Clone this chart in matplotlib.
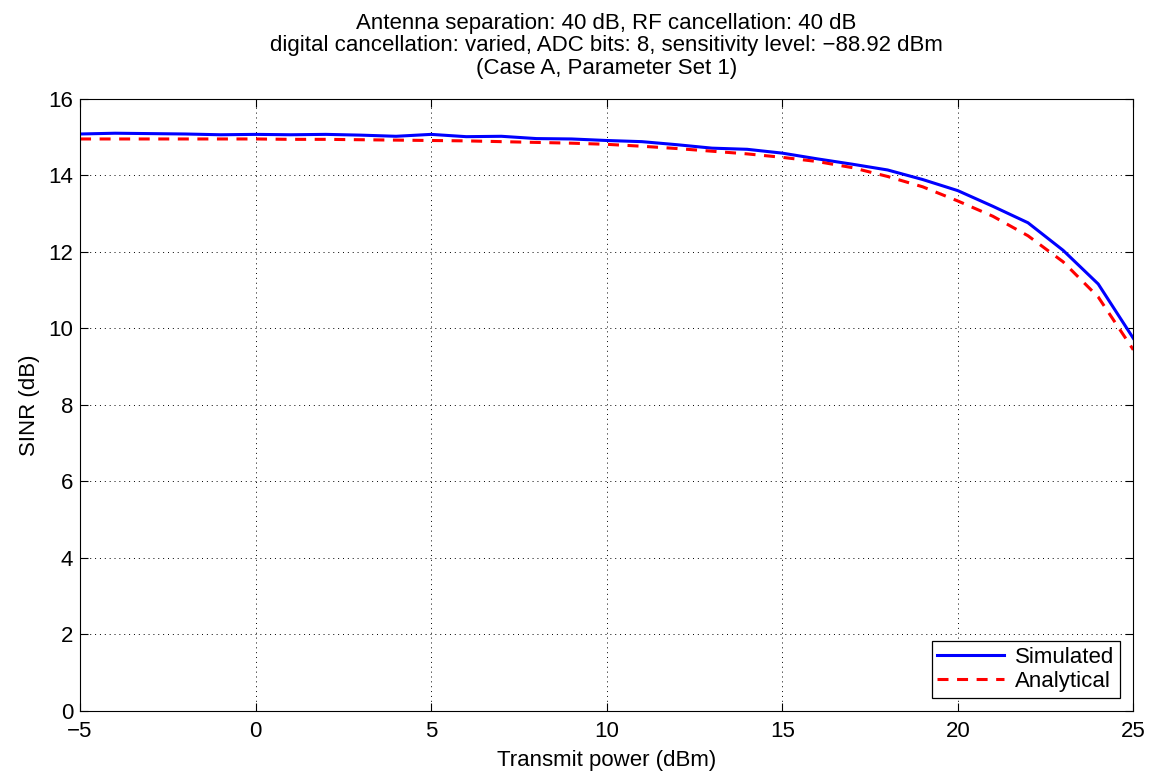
import numpy as np
import matplotlib
matplotlib.use("Agg")
import matplotlib.pyplot as plt

# transmit power sweep (dBm) and SINR curves (dB)
tx_power = list(range(-5, 26))
sinr_sim = [15.08, 15.10, 15.09, 15.08, 15.06, 15.07, 15.06, 15.07, 15.05, 15.02,
            15.07, 15.01, 15.02, 14.96, 14.95, 14.91, 14.88, 14.80, 14.71, 14.68,
            14.58, 14.43, 14.29, 14.14, 13.89, 13.60, 13.19, 12.76, 12.04, 11.16,
            9.74]
sinr_ana = [14.95, 14.95, 14.95, 14.95, 14.95, 14.95, 14.94, 14.94, 14.93, 14.92,
            14.91, 14.90, 14.88, 14.86, 14.84, 14.81, 14.76, 14.70, 14.63, 14.56,
            14.47, 14.36, 14.20, 13.97, 13.70, 13.33, 12.93, 12.42, 11.74, 10.82,
            9.44]

xticks = [-5, 0, 5, 10, 15, 20, 25]
yticks = list(range(0, 17, 2))

FS = 16
plt.rcParams["font.family"] = ["Liberation Sans", "DejaVu Sans"]
plt.rcParams["font.size"] = FS

fig = plt.figure(figsize=(11.6, 7.73), dpi=100)
ax = fig.add_axes([0.069, 0.0802, 0.908, 0.792])

ax.plot(tx_power, sinr_sim, color="#0000ff", lw=2.2, label="Simulated")
ax.plot(tx_power, sinr_ana, color="#ff0000", lw=2.2, ls=(0, (3.6, 2.8)),
        label="Analytical")

ax.set_xlim(-5, 25)
ax.set_ylim(0, 16)
ax.set_xticks(xticks)
ax.set_yticks(yticks)
ax.tick_params(direction="in", length=6, width=0.8, top=True, right=True,
               labelsize=FS)
ax.tick_params(axis="x", pad=7)
ax.tick_params(axis="y", pad=5)
ax.grid(True, color="black", ls=(0, (1, 4)), lw=0.7)
for s in ax.spines.values():
    s.set_linewidth(0.8)

ax.set_xlabel("Transmit power (dBm)", fontsize=FS, labelpad=6)
ax.set_ylabel("SINR (dB)", fontsize=FS, labelpad=6)
ax.set_title("Antenna separation: 40 dB, RF cancellation: 40 dB\n"
             "digital cancellation: varied, ADC bits: 8, sensitivity level: \u221288.92 dBm\n"
             "(Case A, Parameter Set 1)", fontsize=FS, linespacing=1.1, pad=18)

leg = ax.legend(loc="lower right", fontsize=FS, fancybox=False, framealpha=1,
                edgecolor="black", handlelength=3.0, borderaxespad=0.6,
                borderpad=0.25, labelspacing=0.15, handletextpad=0.5)
leg.get_frame().set_linewidth(0.9)

fig.savefig("out.png", dpi=100)
